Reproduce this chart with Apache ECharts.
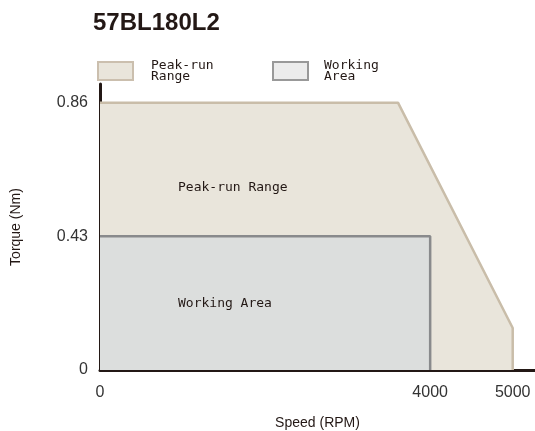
<!DOCTYPE html>
<html><head><meta charset="utf-8">
<script src="https://cdn.jsdelivr.net/npm/echarts@6/dist/echarts.min.js"></script>
<style>html,body{margin:0;padding:0;background:#fff}#c{width:535px;height:431px}</style>
</head><body><div id="c"></div>
<script>
const title = '57BL180L2';
const seriesNames = ['Peak-run Range', 'Working Area'];
const legendLabels = ['Peak-run\nRange', 'Working\nArea'];
const peakSpeed = [0, 3610, 5000, 5000];
const peakTorque = [0.86, 0.86, 0.135, 0];
const workSpeed = [0, 4000, 4000];
const workTorque = [0.43, 0.43, 0];
const xTicks = [0, 4000, 5000];
const yTicks = [0, 0.43, 0.86];
const xName = 'Speed (RPM)';
const yName = 'Torque (Nm)';

const peakData = peakSpeed.map((s, i) => [s, peakTorque[i]]);
const workData = workSpeed.map((s, i) => [s, workTorque[i]]);

const chart = echarts.init(document.getElementById('c'), null, {renderer: 'canvas'});
const monoFont = 'DejaVu Sans Mono';
chart.setOption({
  animation: false,
  backgroundColor: '#fff',
  title: {
    text: title, left: 88, top: 6,
    textStyle: {fontFamily: 'Liberation Sans', fontWeight: 'bold', fontSize: 24, color: '#231815'}
  },
  legend: [
    {
      left: 97, top: 54, padding: 0, itemWidth: 35, itemHeight: 18, icon: 'rect',
      data: [{name: seriesNames[0], itemStyle: {color: '#e9e5db', borderColor: '#cbbfae', borderWidth: 2}}],
      formatter: () => legendLabels[0],
      textStyle: {fontFamily: monoFont, fontSize: 13, lineHeight: 11, color: '#231815', padding: [12, 0, 0, 13]}
    },
    {
      left: 272, top: 54, padding: 0, itemWidth: 35, itemHeight: 18, icon: 'rect',
      data: [{name: seriesNames[1], itemStyle: {color: '#ececec', borderColor: '#999', borderWidth: 2}}],
      formatter: () => legendLabels[1],
      textStyle: {fontFamily: monoFont, fontSize: 13, lineHeight: 11, color: '#231815', padding: [12, 0, 0, 11]}
    }
  ],
  grid: {left: 100, right: 0, top: 84, bottom: 61, containLabel: false, outerBoundsMode: 'none'},
  xAxis: {
    type: 'value', min: 0, max: 5270,
    name: xName, nameLocation: 'middle', nameGap: 46,
    nameTextStyle: {fontFamily: 'Liberation Sans', fontSize: 14, color: '#231815'},
    axisLine: {show: true, lineStyle: {color: '#231815', width: 3}},
    axisTick: {show: false},
    splitLine: {show: false},
    axisLabel: {customValues: xTicks, formatter: v => String(v), margin: 15, fontFamily: 'Liberation Sans', fontSize: 16, color: '#333'}
  },
  yAxis: {
    type: 'value', min: 0, max: 0.92,
    name: yName, nameLocation: 'middle', nameGap: 77,
    nameTextStyle: {fontFamily: 'Liberation Sans', fontSize: 14, color: '#231815'},
    axisLine: {show: true, lineStyle: {color: '#231815', width: 3}},
    axisTick: {show: false},
    splitLine: {show: false},
    axisLabel: {customValues: yTicks, formatter: v => String(v), margin: 12, fontFamily: 'Liberation Sans', fontSize: 16, color: '#333'}
  },
  series: [
    {
      name: seriesNames[0], type: 'line', data: peakData, symbol: 'none', z: 2,
      itemStyle: {color: '#e9e5db'},
      lineStyle: {color: '#c9bda9', width: 2.5},
      areaStyle: {color: '#e9e5db', opacity: 1},
      markPoint: {
        symbol: 'rect', symbolSize: 0,
        data: [{coord: [945, 0.587], value: seriesNames[0]}],
        label: {show: true, position: 'right', distance: 0, formatter: seriesNames[0], fontFamily: monoFont, fontSize: 13, color: '#231815'}
      }
    },
    {
      name: seriesNames[1], type: 'line', data: workData, symbol: 'none', z: 3,
      itemStyle: {color: '#dcdedd'},
      lineStyle: {color: '#898a8c', width: 2.5},
      areaStyle: {color: '#dcdedd', opacity: 1},
      markPoint: {
        symbol: 'rect', symbolSize: 0,
        data: [{coord: [945, 0.213], value: seriesNames[1]}],
        label: {show: true, position: 'right', distance: 0, formatter: seriesNames[1], fontFamily: monoFont, fontSize: 13, color: '#231815'}
      }
    }
  ]
});
</script></body></html>
